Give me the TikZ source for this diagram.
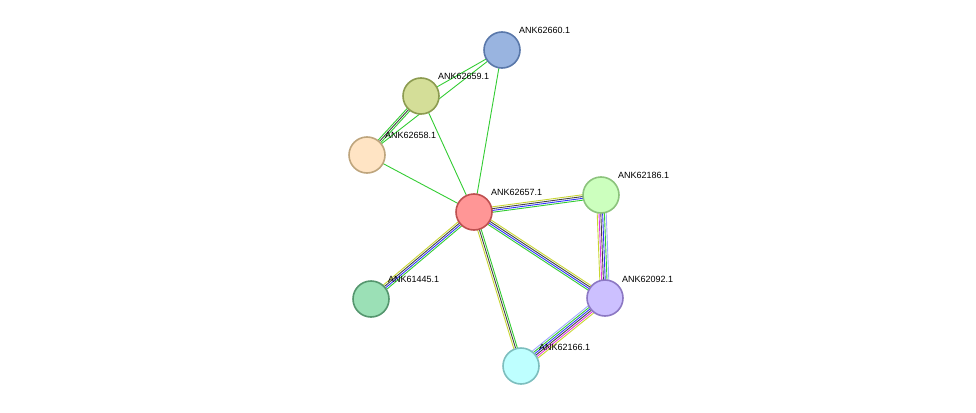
\documentclass[tikz,border=0pt]{standalone}
\usepackage{fontspec}
\setmainfont{Liberation Sans}
\usetikzlibrary{calc}
\definecolor{eg}{HTML}{33CC33}
\definecolor{ey}{HTML}{C8D632}
\definecolor{ek}{HTML}{444444}
\definecolor{eb}{HTML}{3333FF}
\definecolor{emg}{HTML}{E033E0}
\definecolor{elb}{HTML}{A0A8FF}
\tikzset{prot/.style={circle,minimum size=36pt,inner sep=0pt,line width=1.6pt},
 lbl/.style={font=\fontsize{9}{10}\selectfont,anchor=south west,inner sep=1pt}}
\newcommand{\edg}[4]{% a b n colors
 \foreach \c [count=\i] in {#4}{
  \pgfmathsetmacro{\o}{(\i-1-(#3-1)/2)*1.8}
  \draw[color=\c,line width=0.9pt] ($(#1)!\o pt!90:(#2)$) -- ($(#2)!\o pt!-90:(#1)$);
 }}
\begin{document}
\begin{tikzpicture}[x=1pt,y=-1pt]
\useasboundingbox (0,0) rectangle (976,412);
\path (502,50) coordinate (p60) (421,96) coordinate (p59) (367,155) coordinate (p58)
 (474,212) coordinate (p57) (601,195) coordinate (p186) (605,298) coordinate (p092)
 (371,299) coordinate (p445) (521,366) coordinate (p166);
\edg{p60}{p59}{1}{eg}
\edg{p60}{p58}{1}{eg}
\edg{p58}{p59}{3}{eg,ek,eg}
\edg{p59}{p57}{1}{eg}
\edg{p58}{p57}{1}{eg}
\edg{p60}{p57}{1}{eg}
\edg{p57}{p186}{4}{eg,eb,ek,ey}
\edg{p57}{p092}{4}{eg,eb,ek,ey}
\edg{p57}{p445}{4}{ey,ek,eb,eg}
\edg{p57}{p166}{3}{ey,ek,eg}
\edg{p186}{p092}{6}{ey,emg,ek,eb,eg,elb}
\edg{p092}{p166}{6}{elb,eg,eb,ek,emg,ey}
\node[prot,draw={rgb,255:red,90;green,120;blue,170},fill={rgb,255:red,153;green,180;blue,224}] (n60) at (p60) {};
\node[prot,draw={rgb,255:red,140;green,155;blue,80},fill={rgb,255:red,212;green,222;blue,152}] (n59) at (p59) {};
\node[prot,draw={rgb,255:red,190;green,165;blue,125},fill={rgb,255:red,255;green,228;blue,196}] (n58) at (p58) {};
\node[prot,draw={rgb,255:red,190;green,80;blue,80},fill={rgb,255:red,255;green,150;blue,150}] (n57) at (p57) {};
\node[prot,draw={rgb,255:red,140;green,195;blue,125},fill={rgb,255:red,204;green,255;blue,190}] (n186) at (p186) {};
\node[prot,draw={rgb,255:red,140;green,120;blue,195},fill={rgb,255:red,204;green,192;blue,255}] (n092) at (p092) {};
\node[prot,draw={rgb,255:red,85;green,150;blue,110},fill={rgb,255:red,155;green,224;blue,182}] (n445) at (p445) {};
\node[prot,draw={rgb,255:red,125;green,190;blue,190},fill={rgb,255:red,190;green,255;blue,255}] (n166) at (p166) {};
\node[lbl] (l60) at (518,35) {ANK62660.1};
\node[lbl] (l59) at (437,81) {ANK62659.1};
\node[lbl] (l58) at (384,140) {ANK62658.1};
\node[lbl] (l57) at (490,197) {ANK62657.1};
\node[lbl] (l186) at (617,180) {ANK62186.1};
\node[lbl] (l092) at (621,284) {ANK62092.1};
\node[lbl] (l445) at (387,284) {ANK61445.1};
\node[lbl] (l166) at (538,352) {ANK62166.1};
\end{tikzpicture}
\end{document}
